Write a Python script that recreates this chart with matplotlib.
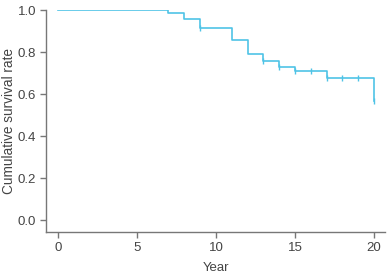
import matplotlib
matplotlib.use("Agg")
import matplotlib.pyplot as plt

# Kaplan-Meier step data
step_times = [0, 7, 8, 9, 11, 12, 13, 14, 15, 17, 20]
step_surv = [1.0, 0.987, 0.957, 0.916, 0.857, 0.789, 0.757, 0.729, 0.711, 0.678, 0.567]
censor_times = [9, 13, 14, 15, 16, 17, 18, 19, 20]
censor_surv = [0.916, 0.757, 0.729, 0.711, 0.711, 0.678, 0.678, 0.678, 0.567]
xticks = [0, 5, 10, 15, 20]
yticks = [0.0, 0.2, 0.4, 0.6, 0.8, 1.0]

plt.rcParams['font.family'] = ['Liberation Sans', 'DejaVu Sans']
fig = plt.figure(figsize=(3.89, 2.73), dpi=100)
ax = fig.add_axes([0.118, 0.150, 0.872, 0.813])

color = '#4fc3e6'
ax.step(step_times, step_surv, where='post', color=color, lw=1.2)
ax.plot(censor_times, censor_surv, ls='none', marker='|', ms=5, mew=1.0, color=color)

ax.set_xlim(-0.75, 20.7)
ax.set_ylim(-0.057, 1.0)
ax.set_xticks(xticks)
ax.set_yticks(yticks)
ax.set_yticklabels([f"{v:.1f}" for v in yticks])
for s in ['top', 'right']:
    ax.spines[s].set_visible(False)
for s in ['left', 'bottom']:
    ax.spines[s].set_color('#777777')
    ax.spines[s].set_linewidth(1.0)
ax.tick_params(colors='#777777', labelcolor='#444444', labelsize=9.5, length=4, width=1.0, direction='out', pad=3)
ax.set_xlabel('Year', fontsize=9.5, color='#444444', labelpad=6)
ax.set_ylabel('Cumulative survival rate', fontsize=9.8, color='#444444', labelpad=1)

fig.savefig('out.png', dpi=100)
